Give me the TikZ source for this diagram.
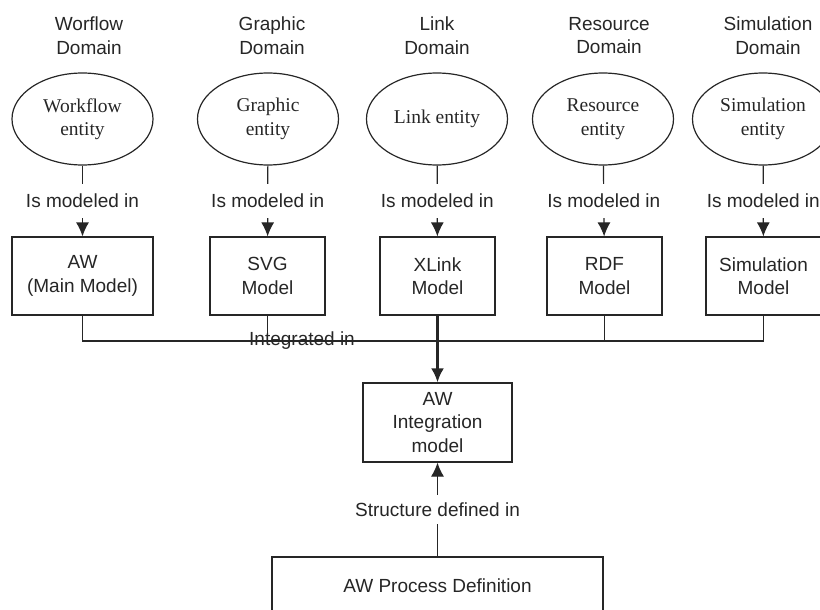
\documentclass[tikz,border=0pt]{standalone}
\usepackage{fontspec}
\setmainfont{Liberation Serif}
\setsansfont{Liberation Sans}
\usetikzlibrary{shapes.geometric}
\usetikzlibrary{arrows.meta}

\tikzset{
  domlabel/.style={font=\sffamily\fontsize{19}{23.5}\selectfont,align=center,inner sep=0pt},
  entity/.style={draw,ellipse,line width=1.2pt,minimum width=141pt,minimum height=92pt,
    inner sep=0pt,align=center,font=\rmfamily\fontsize{19.5}{23.5}\selectfont},
  model/.style={draw,rectangle,line width=1.2pt,minimum width=115pt,minimum height=78pt,
    inner sep=0pt,align=center,font=\sffamily\fontsize{19}{23.5}\selectfont},
  rel/.style={fill=white,inner xsep=1pt,inner ysep=10pt,font=\sffamily\fontsize{19}{23.5}\selectfont},
  link/.style={line width=1.2pt,-{Latex[length=14pt,width=13pt]}},
  plain/.style={line width=1.2pt},
}

\begin{document}
\begin{tikzpicture}[x=1pt,y=-1pt,color=black!85]
    \useasboundingbox (0,0) rectangle (820,610);
    \clip (0,0) rectangle (820,610);

    % domains
    \node[domlabel] (wfdom) at (89,35.5) {Worflow\\Domain};
    \node[domlabel] (gfdom) at (272,35.5) {Graphic\\Domain};
    \node[domlabel] (lkdom) at (437,35.5) {Link\\Domain};
    \node[domlabel] (rsdom) at (609,35.5) {Resource\\Domain};
    \node[domlabel] (smdom) at (768,35.5) {Simulation\\Domain};

    % entities
    \node[entity] (wfent) at (82.5,119) {Workflow\\entity};
    \node[entity] (gfent) at (268,119) {Graphic\\entity};
    \node[entity] (lkent) at (437,119) {Link entity};
    \node[entity] (rsent) at (603,119) {Resource\\entity};
    \node[entity] (sment) at (763,119) {Simulation\\entity};

    % models
    \node[model,minimum width=141pt] (wfmod) at (82.5,276) {AW\\(Main Model)};
    \node[model] (gfmod) at (267.5,276) {SVG\\Model};
    \node[model] (lkmod) at (437.5,276) {XLink\\Model};
    \node[model] (rsmod) at (604.5,276) {RDF\\Model};
    \node[model] (smmod) at (763.5,276) {Simulation\\Model};

    \node[model,minimum width=149pt,minimum height=79pt] (intmod) at (437.5,422.5)
      {AW\\Integration\\model};
    \node[model,minimum width=331pt,minimum height=58pt] (pdef) at (437.5,586)
      {AW Process Definition};

    % is modeled in
    \draw[link] (wfent) -- node[rel]{Is modeled in} (wfmod);
    \draw[link] (gfent) -- node[rel]{Is modeled in} (gfmod);
    \draw[link] (lkent) -- node[rel]{Is modeled in} (lkmod);
    \draw[link] (rsent) -- node[rel]{Is modeled in} (rsmod);
    \draw[link] (sment) -- node[rel]{Is modeled in} (smmod);

    % integration bus
    \coordinate (bus) at (437.5,341);
    \draw[plain] (wfmod.south) |- (bus) -| (smmod.south);
    \draw[plain] (gfmod.south) -- (gfmod.south |- bus);
    \draw[plain] (rsmod.south) -- (rsmod.south |- bus);
    \node[domlabel] (integ) at (302,341) {Integrated in};
    \draw[link,line width=2.6pt] (lkmod.south) -- (intmod.north);

    \draw[link] (pdef) -- node[rel,inner ysep=8pt]{Structure defined in} (intmod);
\end{tikzpicture}
\end{document}
